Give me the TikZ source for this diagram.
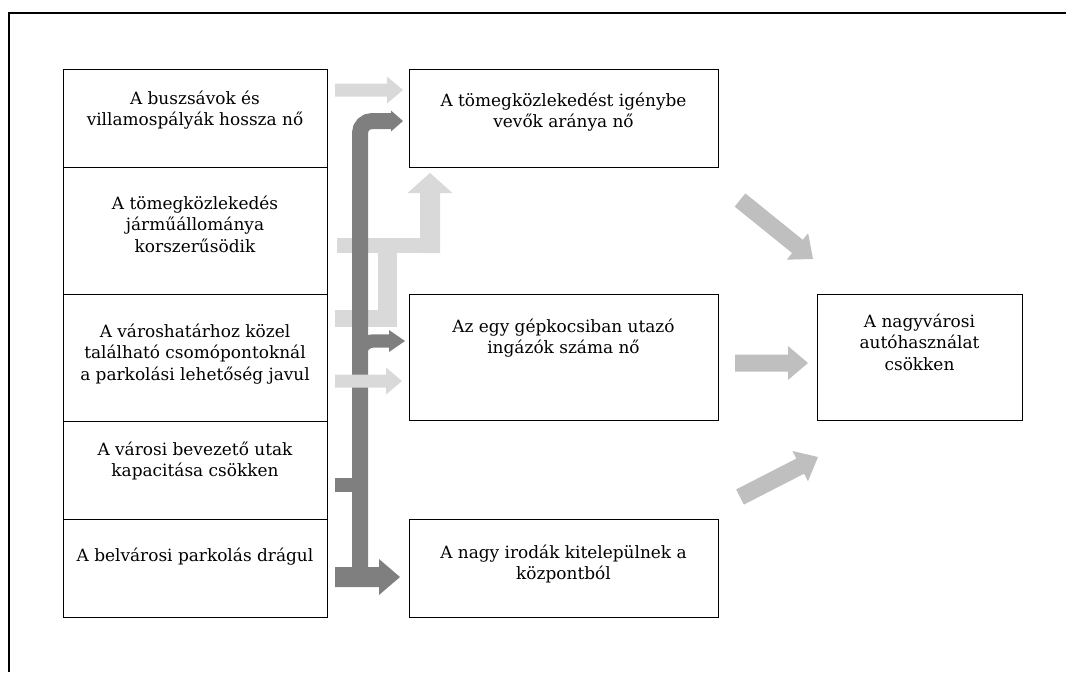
\documentclass[tikz,border=0pt]{standalone}
\usepackage{fontspec}
\setmainfont{DejaVu Serif}
\usetikzlibrary{calc}
\definecolor{lightg}{HTML}{D9D9D9}
\definecolor{darkg}{HTML}{7F7F7F}
\definecolor{midg}{HTML}{BFBFBF}
% #1 colour, #2 from, #3 to, #4 half shaft, #5 half head, #6 head length
\newcommand\blockarrow[6]{%
  \coordinate (ba-c) at ($(#3)!#6!(#2)$);
  \fill[#1] ($(#2)!#4!90:(#3)$) -- ($(ba-c)!#4!90:(#3)$) -- ($(ba-c)!#5!90:(#3)$) -- (#3)
    -- ($(ba-c)!#5!-90:(#3)$) -- ($(ba-c)!#4!-90:(#3)$) -- ($(#2)!#4!-90:(#3)$) -- cycle;
}
\begin{document}
\begin{tikzpicture}[x=0.75pt,y=-0.75pt,
  box/.style={draw=black, line width=1pt, inner sep=0pt, anchor=north west},
  txt/.style={align=center, inner sep=0pt, font=\fontsize{12.7}{16.2}\selectfont}]
\useasboundingbox (0,0) rectangle (1066,672);
\draw[line width=1.9pt] (9,672) -- (9,13) -- (1066,13);

% left column
\node[box, minimum width=198pt, minimum height=73.5pt] (l1) at (63,69) {};
\node[box, minimum width=198pt, minimum height=95.25pt] (l2) at (63,167) {};
\node[box, minimum width=198pt, minimum height=95.25pt] (l3) at (63,294) {};
\node[box, minimum width=198pt, minimum height=73.5pt] (l4) at (63,421) {};
\node[box, minimum width=198pt, minimum height=73.5pt] (l5) at (63,519) {};
% middle column
\node[box, minimum width=231.75pt, minimum height=73.5pt] (m1) at (409,69) {};
\node[box, minimum width=231.75pt, minimum height=94.5pt] (m2) at (409,294) {};
\node[box, minimum width=231.75pt, minimum height=73.5pt] (m3) at (409,519) {};
% right
\node[box, minimum width=153.75pt, minimum height=94.5pt] (r1) at (817,294) {};

% texts
\node[txt] (tl1) at (195,110) {A buszsávok és\\villamospályák hossza nő};
\node[txt] (tl2) at (195,224) {A tömegközlekedés\\járműállománya\\korszerűsödik};
\node[txt] (tl3) at (195,354) {A városhatárhoz közel\\található csomópontoknál\\a parkolási lehetőség javul};
\node[txt] (tl4) at (195,461) {A városi bevezető utak\\kapacitása csökken};
\node[txt] (tl5) at (195,557) {A belvárosi parkolás drágul};
\node[txt] (tm1) at (563.5,112) {A tömegközlekedést igénybe\\vevők aránya nő};
\node[txt] (tm2) at (563.5,338) {Az egy gépkocsiban utazó\\ingázók száma nő};
\node[txt] (tm3) at (563.5,564) {A nagy irodák kitelepülnek a\\központból};
\node[txt] (tr1) at (919.5,342) {A nagyvárosi\\autóhasználat\\csökken};

% connector end points
\coordinate (a1s) at (335,90);  \coordinate (a1e) at (403,90);
\coordinate (upS) at (430,253); \coordinate (upE) at (430,173);
\coordinate (a3s) at (335,381); \coordinate (a3e) at (402,381);
\coordinate (d1s) at (740,200); \coordinate (d1e) at (813,259);
\coordinate (hs) at (735,363);  \coordinate (he) at (808,363);
\coordinate (d2s) at (740,497); \coordinate (d2e) at (818,457);

% light arrows (under the dark trunk)
\blockarrow{lightg}{a1s}{a1e}{4.875pt}{10.125pt}{12pt}
\fill[lightg] (337,238) rectangle (440,253);
\fill[lightg] (335,310) rectangle (397,327);
\fill[lightg] (378,253) rectangle (397,327);
\blockarrow{lightg}{upS}{upE}{7.5pt}{16.875pt}{15pt}

% dark trunk
\draw[darkg, line width=12pt, rounded corners=9pt] (360,577) -- (360,121) -- (392,121);
\coordinate (k1s) at (391,121); \coordinate (k1e) at (403,121);
\blockarrow{darkg}{k1s}{k1e}{6pt}{7.875pt}{9pt}
\draw[darkg, line width=10pt, rounded corners=10pt] (360,385) -- (360,341) -- (390,341);
\coordinate (k2s) at (389,341); \coordinate (k2e) at (405,341);
\blockarrow{darkg}{k2s}{k2e}{5pt}{8.25pt}{12pt}
\fill[darkg] (335,478) rectangle (360,492);
\coordinate (k3s) at (335,577); \coordinate (k3e) at (400,577);
\blockarrow{darkg}{k3s}{k3e}{7.5pt}{13.5pt}{15.75pt}

% light arrow on top
\blockarrow{lightg}{a3s}{a3e}{4.875pt}{10.125pt}{12pt}

% mid grey arrows
\blockarrow{midg}{d1s}{d1e}{6.375pt}{12.75pt}{15pt}
\blockarrow{midg}{hs}{he}{6.375pt}{12.75pt}{15pt}
\blockarrow{midg}{d2s}{d2e}{6.375pt}{12.75pt}{15pt}
\end{tikzpicture}
\end{document}
